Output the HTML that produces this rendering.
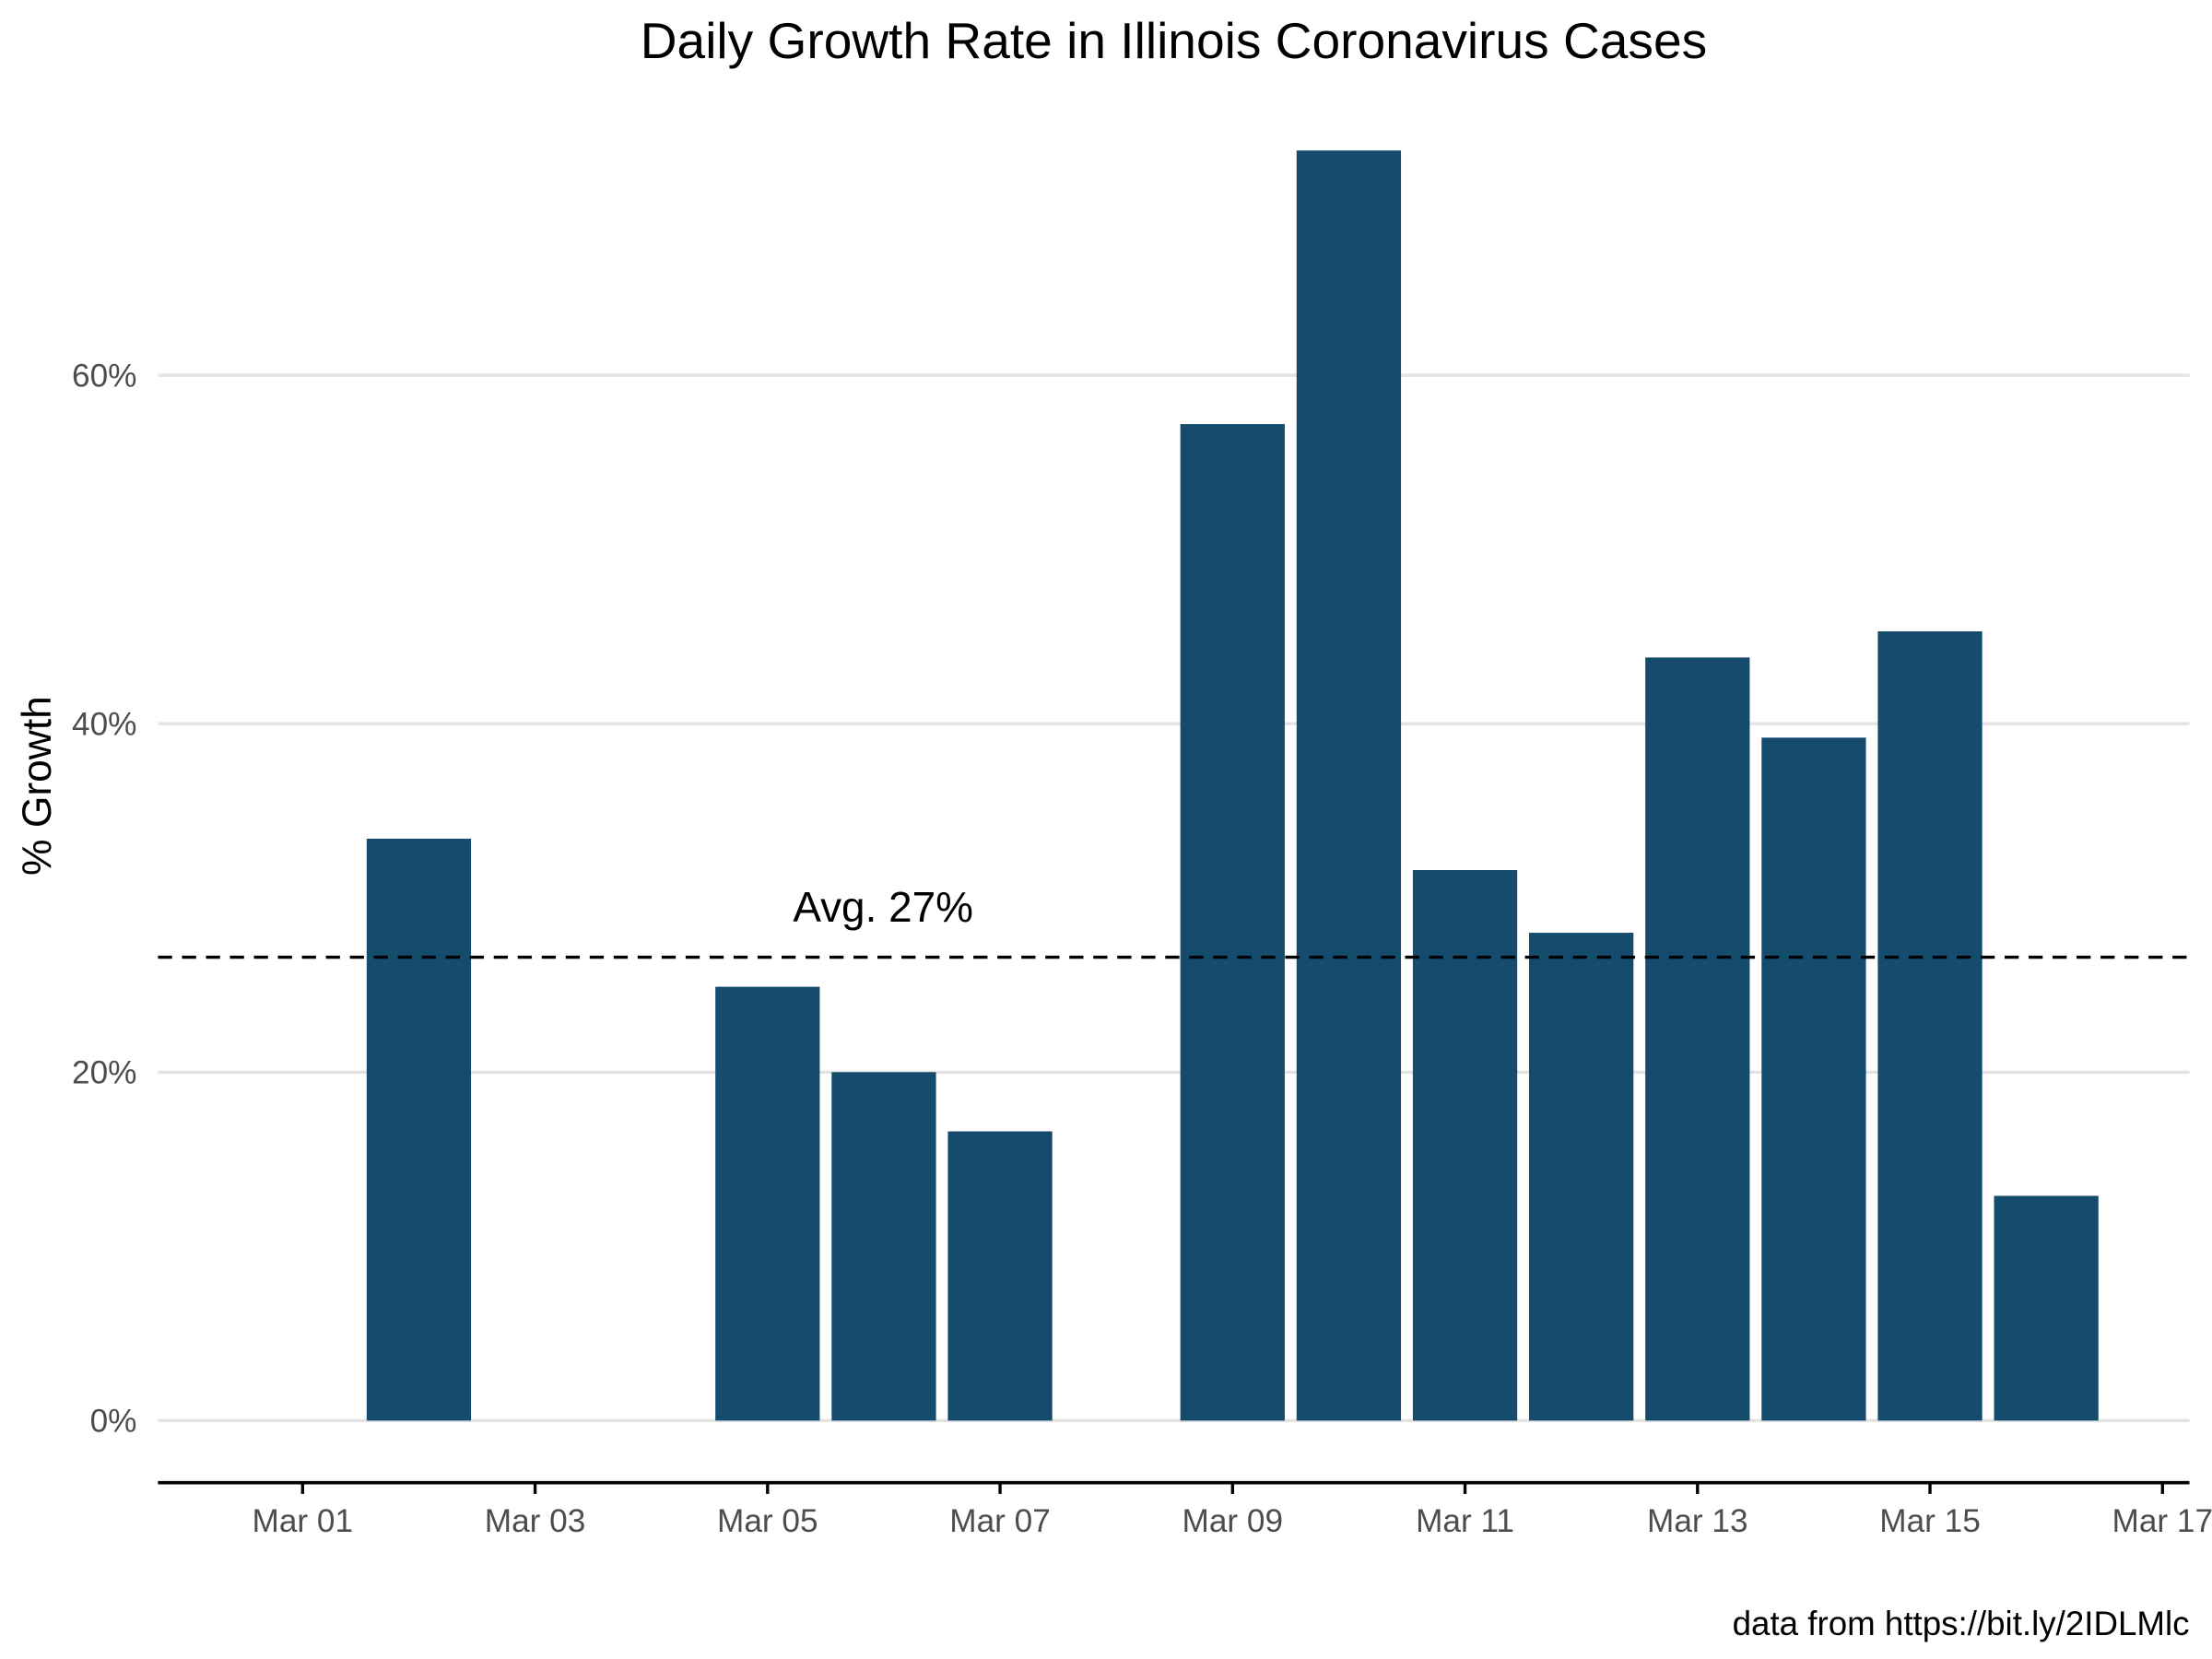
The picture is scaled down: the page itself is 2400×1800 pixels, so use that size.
<!DOCTYPE html>
<html><head><meta charset="utf-8"><style>
html,body{margin:0;padding:0;background:#fff;}
svg{display:block;font-family:"Liberation Sans",Arial,sans-serif;}
</style></head><body>
<svg id="chart" width="2400" height="1800" viewBox="0 0 1568 1176" xmlns="http://www.w3.org/2000/svg">
<text x="832" y="41" font-size="36" text-anchor="middle" fill="#000">Daily Growth Rate in Illinois Coronavirus Cases</text>
<text transform="translate(36,557) rotate(-90)" font-size="29" text-anchor="middle" fill="#000">% Growth</text>
<text x="1552" y="1159" font-size="24" text-anchor="end" fill="#000">data from https://bit.ly/2IDLMlc</text>
<g id="grid"></g><g id="bars"></g><g id="xaxis"></g><g id="yaxis"></g><g id="avg"></g>
</svg>
<script>
const days = [1,2,3,4,5,6,7,8,9,10,11,12,13,14,15,16];
const growth = [0,33.4,0,0,24.9,20,16.6,0,57.2,72.9,31.6,28.0,43.8,39.2,45.3,12.9];
const yTicks = [0,20,40,60];
const yTickLabels = ["0%","20%","40%","60%"];
const xTicks = [1,3,5,7,9,11,13,15,17];
const xTickLabels = ["Mar 01","Mar 03","Mar 05","Mar 07","Mar 09","Mar 11","Mar 13","Mar 15","Mar 17"];
const avgValue = 26.6;
const avgLabel = "Avg. 27%";

const NS="http://www.w3.org/2000/svg";
const xS = d => 214.5 + (d-1)*82.4;
const yS = v => 1007 - v*12.35;
function mk(tag, attrs, parent, text){
  const e=document.createElementNS(NS,tag);
  for(const k in attrs) e.setAttribute(k,attrs[k]);
  if(text!==undefined) e.textContent=text;
  parent.appendChild(e); return e;
}
const grid=document.getElementById('grid'), bars=document.getElementById('bars'),
  xa=document.getElementById('xaxis'), ya=document.getElementById('yaxis'), av=document.getElementById('avg');
yTicks.forEach((t,i)=>{
  const l=mk('line',{x1:112,x2:1552,y1:yS(t),y2:yS(t),stroke:'#e3e3e3','stroke-width':2.2},grid);
  
  
  const tx=mk('text',{x:97,y:yS(t)+8,'font-size':23,'text-anchor':'end',fill:'#4d4d4d'},ya,yTickLabels[i]);
  
  
});
days.forEach((d,i)=>{
  if(growth[i]<=0) return;
  const r=mk('rect',{x:xS(d)-37,width:74,y:yS(growth[i]),height:yS(0)-yS(growth[i]),fill:'#154c6e'},bars);
  
  
});
const ax=mk('line',{x1:112,x2:1552,y1:1051,y2:1051,stroke:'#000','stroke-width':2.4},xa);


xTicks.forEach((d,i)=>{
  const t=mk('line',{x1:xS(d),x2:xS(d),y1:1051,y2:1059,stroke:'#000','stroke-width':2.2},xa);
  
  
  const tx=mk('text',{x:xS(d),y:1086,'font-size':23,'text-anchor':'middle',fill:'#4d4d4d'},xa,xTickLabels[i]);
  
  
});
const al=mk('line',{x1:112,x2:1552,y1:yS(avgValue),y2:yS(avgValue),stroke:'#000','stroke-width':2.2,'stroke-dasharray':'10,7'},av);


const at=mk('text',{x:626,y:yS(avgValue)-25,'font-size':30,'text-anchor':'middle',fill:'#000'},av,avgLabel);


</script>
</body></html>
